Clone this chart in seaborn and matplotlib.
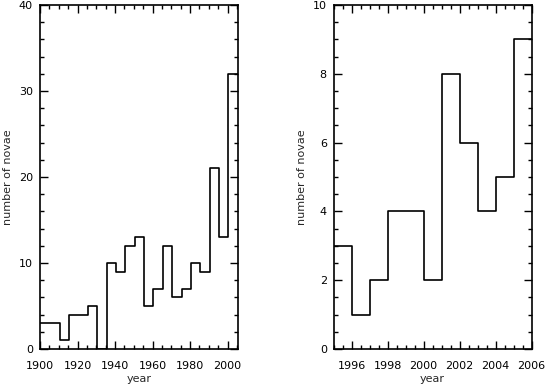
import numpy as np
import pandas as pd
import matplotlib
matplotlib.use("Agg")
import matplotlib.pyplot as plt
from matplotlib.ticker import MultipleLocator
import seaborn as sns

# left panel: 5-year bins (centres) and counts
century_bins = [1898, 1903, 1908, 1913, 1918, 1923, 1928, 1933, 1938, 1943, 1948,
                1953, 1958, 1963, 1968, 1973, 1978, 1983, 1988, 1993, 1998, 2003]
century_counts = [3, 3, 3, 1, 4, 4, 5, 0, 10, 9, 12,
                  13, 5, 7, 12, 6, 7, 10, 9, 21, 13, 32]

# right panel: yearly bins (centres) and counts
recent_bins = [1995.5, 1996.5, 1997.5, 1998.5, 1999.5, 2000.5,
               2001.5, 2002.5, 2003.5, 2004.5, 2005.5]
recent_counts = [3, 1, 2, 4, 4, 2, 8, 6, 4, 5, 9]

sns.set_style("ticks")
plt.rcParams['font.family'] = ['DejaVu Sans']
plt.rcParams['xtick.direction'] = 'in'
plt.rcParams['ytick.direction'] = 'in'

df1 = pd.DataFrame({'year': century_bins, 'n': century_counts})
df2 = pd.DataFrame({'year': recent_bins, 'n': recent_counts})

edges1 = [float(e) for e in np.arange(1895.5, 2006, 5)]
edges2 = [float(e) for e in np.arange(1995, 2006.5, 1)]

fig = plt.figure(figsize=(5.48, 3.89), dpi=100)
ax1 = fig.add_axes([0.073, 0.103, 0.361, 0.884])
ax2 = fig.add_axes([0.609, 0.103, 0.361, 0.884])

sns.histplot(data=df1, x='year', weights='n', bins=edges1,
             element='step', fill=False, color='black', linewidth=1.2, ax=ax1)
sns.histplot(data=df2, x='year', weights='n', bins=edges2,
             element='step', fill=False, color='black', linewidth=1.2, ax=ax2)

ax1.set_xlim(1900, 2005.5)
ax1.set_ylim(0, 40)
ax1.xaxis.set_major_locator(MultipleLocator(20))
ax1.xaxis.set_minor_locator(MultipleLocator(5))
ax1.yaxis.set_major_locator(MultipleLocator(10))
ax1.yaxis.set_minor_locator(MultipleLocator(2))

ax2.set_xlim(1995, 2006)
ax2.set_ylim(0, 10)
ax2.xaxis.set_major_locator(MultipleLocator(2))
ax2.xaxis.set_minor_locator(MultipleLocator(0.5))
ax2.yaxis.set_major_locator(MultipleLocator(2))
ax2.yaxis.set_minor_locator(MultipleLocator(0.5))

for ax in (ax1, ax2):
    ax.set_xlabel('year', fontsize=8, labelpad=2)
    ax.set_ylabel('number of novae', fontsize=8, labelpad=4)
    for s in ax.spines.values():
        s.set_visible(True)
        s.set_linewidth(1.2)
        s.set_color('black')
    ax.tick_params(which='both', top=True, right=True, direction='in', colors='black',
                   labelsize=8, width=1.0)
    ax.tick_params(axis='x', which='major', pad=9)
    ax.tick_params(axis='y', which='major', pad=5)
    ax.tick_params(which='major', length=6)
    ax.tick_params(which='minor', length=3)

fig.savefig('out.png', dpi=100)
